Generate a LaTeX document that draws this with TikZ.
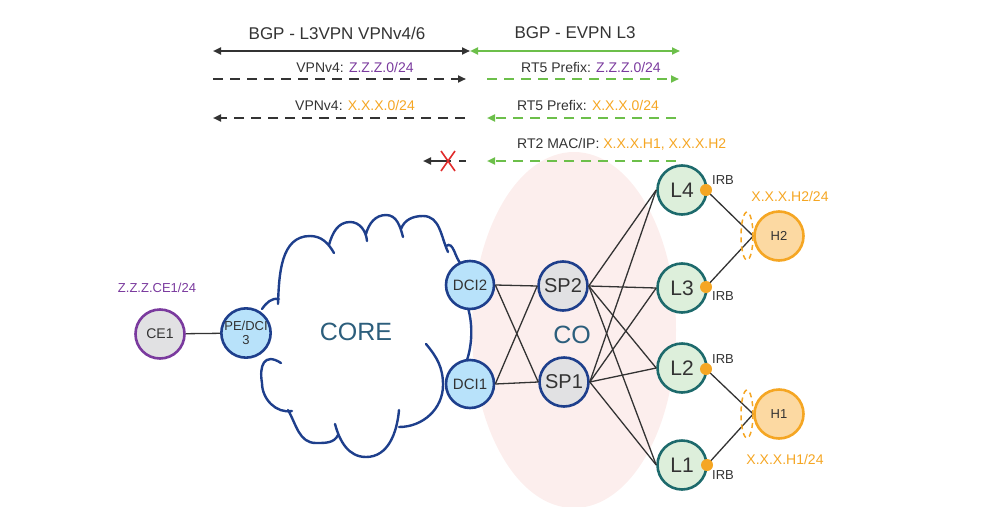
\documentclass[tikz,border=0pt]{standalone}
\usepackage{fontspec}
\setmainfont{Liberation Sans}
\usetikzlibrary{arrows.meta}

\definecolor{navy}{HTML}{1E3F8C}
\definecolor{skyfill}{HTML}{B8E2FA}
\definecolor{greyfill}{HTML}{E1E1E3}
\definecolor{purp}{HTML}{7A3A9E}
\definecolor{amber}{HTML}{F5A623}
\definecolor{amberfill}{HTML}{FCD9A2}
\definecolor{teal}{HTML}{1D6A6C}
\definecolor{mint}{HTML}{DDEFDB}
\definecolor{leaf}{HTML}{6CBF4A}
\definecolor{txt}{HTML}{333333}
\definecolor{slate}{HTML}{2C5E7C}
\definecolor{blush}{HTML}{FCEEED}
\definecolor{alarm}{HTML}{E02B2B}

\newcommand{\fsz}[1]{\fontsize{#1}{#1}\selectfont}

\tikzset{
  dcinode/.style={circle, draw=navy, line width=2.6pt, fill=skyfill, minimum size=48pt,
    inner sep=0pt, text=txt, font=\fsz{15}},
  spinenode/.style={circle, draw=navy, line width=2.6pt, fill=greyfill, minimum size=49pt,
    inner sep=0pt, text=txt, font=\fsz{20}},
  leafnode/.style={circle, draw=teal, line width=2.6pt, fill=mint, minimum size=49pt,
    inner sep=0pt, text=txt, font=\fsz{21}},
  hostnode/.style={circle, draw=amber, line width=2.6pt, fill=amberfill, minimum size=49pt,
    inner sep=0pt, text=txt, font=\fsz{13}},
  cenode/.style={circle, draw=purp, line width=2.6pt, fill=greyfill, minimum size=49pt,
    inner sep=0pt, text=txt, font=\fsz{14}},
  irbdot/.style={circle, fill=amber, minimum size=12pt, inner sep=0pt},
  irblabel/.style={text=txt, font=\fsz{13}, inner sep=0pt},
  link/.style={draw=txt, line width=1.3pt},
  cloudline/.style={draw=navy, line width=2.4pt, line cap=round},
  tip/.style={-{Triangle[length=8pt,width=7pt]}},
  bothtips/.style={{Triangle[length=8pt,width=7pt]}-{Triangle[length=8pt,width=7pt]}},
  blackflow/.style={draw=txt, line width=2pt},
  greenflow/.style={draw=leaf, line width=2pt},
  dashflow/.style={dash pattern=on 10pt off 7pt},
  toplabel/.style={text=txt, font=\fsz{17}, inner sep=0pt},
  msglabel/.style={text=txt, font=\fsz{14}, inner sep=0pt},
  bigword/.style={text=slate, font=\fsz{25}, inner sep=0pt},
}

\begin{document}
\begin{tikzpicture}[x=1pt, y=-1pt]
\useasboundingbox (0,0) rectangle (1008,506);
\begin{scope}
\clip (0,0) rectangle (1008,506);
% the CO fabric area
\fill[blush] (574,330) ellipse (102 and 178);
\end{scope}

% CORE cloud outline
\path[cloudline]
  (262,309) to[out=55,in=170] (279,299)
  (278,304) to[out=88,in=180] (310,236) to[out=0,in=120] (334,253)
  (329,245) to[out=75,in=180] (350,222) to[out=0,in=95] (367,241)
  (366,234) to[out=75,in=180] (386,215) to[out=0,in=105] (403,237)
  (401,229) to[out=70,in=180] (423,216) to[out=0,in=115] (448,252)
  (446,246) to[out=35,in=140] (462,265)
  (468,308) .. controls (473,325) and (472,345) .. (467,360)
  (426,344) to[out=-50,in=90] (443,385) to[out=-90,in=0] (399,427)
  (399,410) to[out=-95,in=0] (366,457) to[out=180,in=-75] (335,424)
  (338,435) to[out=-115,in=0] (316,443) to[out=180,in=-60] (288,410)
  (292,411) to[out=190,in=-90] (262,383) .. controls (259,366) and (264,352) .. (281,363);

\node[bigword] (core) at (356,332) {CORE};
\node[bigword] (co) at (572,335) {CO};

% nodes
\node[cenode] (ce1) at (160,334) {CE1};
\node[text=purp, font=\fsz{13}, inner sep=0pt] (ce1ip) at (157,288) {Z.Z.Z.CE1/24};
\node[dcinode, font=\fsz{13}, align=center] (pe) at (246,333) {PE/DCI\\[1pt]3};
\node[dcinode] (dci2) at (470,285) {DCI2};
\node[dcinode] (dci1) at (470,384) {DCI1};
\node[spinenode] (sp2) at (563,286) {SP2};
\node[spinenode] (sp1) at (564,382) {SP1};
\node[leafnode] (l4) at (682,190) {L4};
\node[leafnode] (l3) at (682,288) {L3};
\node[leafnode] (l2) at (682,368) {L2};
\node[leafnode] (l1) at (682,465) {L1};
\node[hostnode] (h2) at (779,236) {H2};
\node[hostnode] (h1) at (779,414) {H1};

% links
\draw[link] (ce1) -- (pe);
\foreach \a in {dci2, dci1}
  \foreach \b in {sp2, sp1}
    \draw[link] (\a.east) -- (\b.west);
\foreach \a in {sp2, sp1}
  \foreach \b in {l4, l3, l2, l1}
    \draw[link] (\a.east) -- (\b.west);

% IRB interfaces towards the hosts
\coordinate (d4) at (706,190);
\coordinate (d3) at (706,287);
\coordinate (d2) at (706,369);
\coordinate (d1) at (707,465);
\draw[link] (d4) -- (h2.west);
\draw[link] (d3) -- (h2.west);
\draw[link] (d2) -- (h1.west);
\draw[link] (d1) -- (h1.west);
\node[irbdot] (irb4) at (d4) {};
\node[irbdot] (irb3) at (d3) {};
\node[irbdot] (irb2) at (d2) {};
\node[irbdot] (irb1) at (d1) {};
\node[irblabel] (t4) at (723,180) {IRB};
\node[irblabel] (t3) at (723,296) {IRB};
\node[irblabel] (t2) at (723,359) {IRB};
\node[irblabel] (t1) at (723,475) {IRB};

\draw[amber, line width=1.5pt, dash pattern=on 5pt off 4pt] (747,236) ellipse (6 and 24);
\draw[amber, line width=1.5pt, dash pattern=on 5pt off 4pt] (747,414) ellipse (6 and 24);
\node[text=amber, font=\fsz{14}, inner sep=0pt] (h2ip) at (790,196) {X.X.X.H2/24};
\node[text=amber, font=\fsz{14}, inner sep=0pt] (h1ip) at (785,459) {X.X.X.H1/24};

% control-plane legend
\node[toplabel] (l3vpn) at (337,33) {BGP - L3VPN VPNv4/6};
\node[toplabel] (evpn) at (575,33) {BGP - EVPN L3};
\coordinate (s0a) at (213,51);
\coordinate (s0m) at (470,51);
\coordinate (s0b) at (680,51);
\draw[blackflow, bothtips] (s0a) -- (s0m);
\draw[greenflow, bothtips] (s0m) -- (s0b);

\node[msglabel] (m1) at (355,67) {VPNv4: \textcolor{purp}{Z.Z.Z.0/24}};
\node[msglabel] (m2) at (591,67) {RT5 Prefix: \textcolor{purp}{Z.Z.Z.0/24}};
\coordinate (r1a) at (213,79);
\coordinate (r1b) at (466,79);
\coordinate (r1c) at (487,79);
\coordinate (r1d) at (679,79);
\draw[blackflow, dashflow, tip] (r1a) -- (r1b);
\draw[greenflow, dashflow, tip] (r1c) -- (r1d);

\node[msglabel] (m3) at (355,105) {VPNv4: \textcolor{amber}{X.X.X.0/24}};
\node[msglabel] (m4) at (588,105) {RT5 Prefix: \textcolor{amber}{X.X.X.0/24}};
\coordinate (r2a) at (465,118);
\coordinate (r2b) at (213,118);
\coordinate (r2c) at (676,118);
\coordinate (r2d) at (487,118);
\draw[blackflow, dashflow, tip] (r2a) -- (r2b);
\draw[greenflow, dashflow, tip] (r2c) -- (r2d);

\node[msglabel, anchor=west] (m5) at (517,144) {RT2 MAC/IP: \textcolor{amber}{X.X.X.H1, X.X.X.H2}};
\coordinate (r3a) at (676,161);
\coordinate (r3b) at (487,161);
\draw[greenflow, dashflow, tip] (r3a) -- (r3b);
\coordinate (r3c) at (451,161);
\coordinate (r3d) at (423,161);
\coordinate (r3e) at (459,161);
\coordinate (r3f) at (466,161);
\draw[blackflow, tip] (r3c) -- (r3d);
\draw[blackflow] (r3e) -- (r3f);
% blocked: red cross over the L3VPN leg
\coordinate (xa) at (441,151);
\coordinate (xb) at (455,171);
\coordinate (xc) at (455,151);
\coordinate (xd) at (441,171);
\draw[alarm, line width=1.6pt] (xa) -- (xb) (xc) -- (xd);
\end{tikzpicture}
\end{document}
